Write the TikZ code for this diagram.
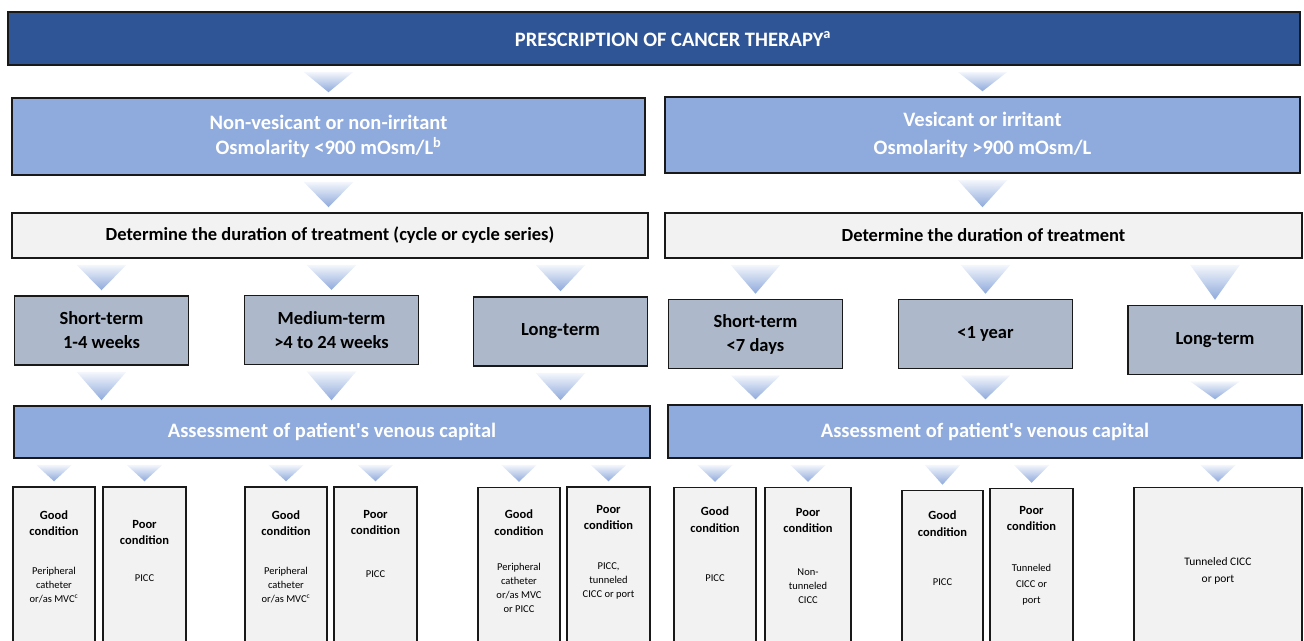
\documentclass[tikz,border=0pt]{standalone}
\usepackage{fontspec}
\setmainfont{Carlito}
\usetikzlibrary{calc}

\definecolor{titleblue}{HTML}{2F5597}
\definecolor{catblue}{HTML}{8FAADC}
\definecolor{panelgrey}{HTML}{F2F2F2}
\definecolor{termgrey}{HTML}{ADB9CA}
\definecolor{triblue}{HTML}{8EA9DB}
\definecolor{triwhite}{HTML}{F4F7FC}

\newcommand{\flowbig}{\bfseries\fontsize{20.5}{25}\selectfont}
\newcommand{\flowmid}{\bfseries\fontsize{18.5}{24}\selectfont}
\newcommand{\flowhead}{\bfseries\fontsize{12.5}{16.5}\selectfont}
\newcommand{\flowsmall}{\fontsize{10.5}{14}\selectfont}

% triangle "arrow": half width, column node, upper node, lower node
\newcommand{\flowtri}[4]{%
  \shade[top color=triwhite, bottom color=triblue]
    ($(#2.center |- #3.south)+(-#1,6)$) -- ($(#2.center |- #3.south)+(#1,6)$)
    -- ($(#2.center |- #4.north)+(0,-5)$) -- cycle;}

\tikzset{
  box/.style={draw=black!90, line width=1.5pt, inner sep=0pt, align=center},
  titlebox/.style={box, fill=titleblue, minimum height=53pt},
  catbox/.style={box, fill=catblue, text=white, font=\flowbig},
  durbox/.style={box, fill=panelgrey, font=\flowmid, minimum height=45pt},
  termbox/.style={box, fill=termgrey, font=\flowmid, minimum width=174pt, minimum height=69pt},
  condbox/.style={box, fill=panelgrey, minimum height=173pt},
  headtxt/.style={font=\flowhead, align=center, inner sep=0pt},
  bodytxt/.style={font=\flowsmall, align=center, inner sep=0pt}
}

\begin{document}
\begin{tikzpicture}[x=1pt, y=-1pt]
  \useasboundingbox (0,0) rectangle (1304,640);
  \clip (0,0) rectangle (1304,640);

  % top
  \node[titlebox, minimum width=1292pt] (title) at (654,38.5) {};
  \node[text=white, font=\flowbig, inner sep=0pt] (titletxt) at (673,39)
    {PRESCRIPTION OF CANCER THERAPY\textsuperscript{a}};

  \node[catbox, minimum width=633pt, minimum height=77pt] (nonves) at (328.5,136.5)
    {Non-vesicant or non-irritant\\Osmolarity <900 mOsm/L\textsuperscript{b}};
  \node[catbox, minimum width=635pt, minimum height=76pt] (ves) at (982.5,135)
    {Vesicant or irritant\\[3pt]Osmolarity >900 mOsm/L};

  \node[durbox, minimum width=636pt] (durL) at (330,235.5)
    {Determine the duration of treatment (cycle or cycle series)};
  \node[durbox, minimum width=637pt] (durR) at (983.5,235.5)
    {Determine the duration of treatment};

  % durations
  \node[termbox] (shortL) at (101.5,330.5) {Short-term\\1-4 weeks};
  \node[termbox] (mediumL) at (331.5,330) {Medium-term\\>4 to 24 weeks};
  \node[termbox] (longL) at (560.5,331.5) {Long-term};
  \node[termbox] (shortR) at (755.5,334) {Short-term\\<7 days};
  \node[termbox] (yearR) at (985.5,334) {<1 year};
  \node[termbox] (longR) at (1215,340) {Long-term};

  \node[catbox, minimum width=636pt, minimum height=52pt] (assessL) at (332,432)
    {Assessment of patient\textquotesingle s venous capital};
  \node[catbox, minimum width=634pt, minimum height=53pt] (assessR) at (985,431.5)
    {Assessment of patient\textquotesingle s venous capital};

  % venous capital outcomes
  \node[condbox, minimum width=82pt] (good1) at (54,573.5) {};
  \node[condbox, minimum width=83pt] (poor1) at (144.5,573.5) {};
  \node[condbox, minimum width=82pt] (good2) at (286,573.5) {};
  \node[condbox, minimum width=83pt] (poor2) at (375.5,573.5) {};
  \node[condbox, minimum width=82pt] (good3) at (519,574) {};
  \node[condbox, minimum width=83pt] (poor3) at (608.5,573.5) {};
  \node[condbox, minimum width=82pt] (good4) at (715,574) {};
  \node[condbox, minimum width=86pt] (poor4) at (808,574) {};
  \node[condbox, minimum width=81pt] (good5) at (942.5,577) {};
  \node[condbox, minimum width=83pt] (poor5) at (1031.5,575) {};
  \node[condbox, minimum width=168pt] (tunnel) at (1218,574) {};

  \node[headtxt] (good1h) at (54,523) {Good\\condition};
  \node[bodytxt] (good1b) at (54,585.5) {Peripheral\\catheter\\or/as MVC\textsuperscript{c}};
  \node[headtxt] (poor1h) at (144.5,532.5) {Poor\\condition};
  \node[bodytxt] (poor1b) at (144.5,578) {PICC};
  \node[headtxt] (good2h) at (286,523) {Good\\condition};
  \node[bodytxt] (good2b) at (286,585.5) {Peripheral\\catheter\\or/as MVC\textsuperscript{c}};
  \node[headtxt] (poor2h) at (375.5,522.5) {Poor\\condition};
  \node[bodytxt] (poor2b) at (375.5,574) {PICC};
  \node[headtxt] (good3h) at (519,522.5) {Good\\condition};
  \node[bodytxt] (good3b) at (519,588) {Peripheral\\catheter\\or/as MVC\\or PICC};
  \node[headtxt] (poor3h) at (608.5,517.5) {Poor\\condition};
  \node[bodytxt] (poor3b) at (608.5,580.5) {PICC,\\tunneled\\CICC or port};
  \node[headtxt] (good4h) at (715,519.5) {Good\\condition};
  \node[bodytxt] (good4b) at (715,578) {PICC};
  \node[headtxt] (poor4h) at (808,520.5) {Poor\\condition};
  \node[bodytxt] (poor4b) at (808,586) {Non-\\tunneled\\CICC};
  \node[headtxt] (good5h) at (942.5,523.5) {Good\\condition};
  \node[bodytxt] (good5b) at (942.5,582) {PICC};
  \node[headtxt] (poor5h) at (1031.5,518.5) {Poor\\condition};
  \node[bodytxt, font=\fontsize{10.5}{16}\selectfont] (poor5b) at (1031.5,585) {Tunneled\\CICC or\\port};
  \node[bodytxt, font=\fontsize{11.5}{17}\selectfont] (tunnelb) at (1218,570.5) {Tunneled CICC\\or port};

  % triangles
  \flowtri{25}{nonves}{title}{nonves}
  \flowtri{25}{ves}{title}{ves}
  \flowtri{25}{nonves}{nonves}{durL}
  \flowtri{25}{ves}{ves}{durR}
  \foreach \t in {shortL, mediumL, longL}{
    \flowtri{25}{\t}{durL}{\t}
    \flowtri{25}{\t}{\t}{assessL}
  }
  \foreach \t in {shortR, yearR, longR}{
    \flowtri{25}{\t}{durR}{\t}
    \flowtri{25}{\t}{\t}{assessR}
  }
  \foreach \c in {good1, poor1, good2, poor2, good3, poor3}{
    \flowtri{18}{\c}{assessL}{\c}
  }
  \foreach \c in {good4, poor4, good5, poor5, tunnel}{
    \flowtri{18}{\c}{assessR}{\c}
  }
\end{tikzpicture}
\end{document}
